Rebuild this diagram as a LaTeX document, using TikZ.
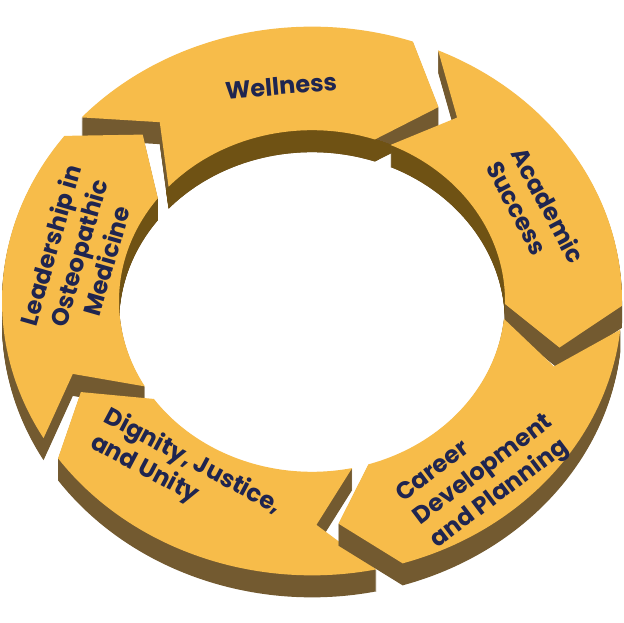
\documentclass[tikz,border=0pt]{standalone}
\usepackage{fontspec}
\setmainfont{Poppins}
\definecolor{face}{HTML}{F7BC4A}
\definecolor{sideout}{HTML}{735A30}
\definecolor{sidein}{HTML}{6F5214}
\definecolor{ink}{HTML}{1F2550}
\newcommand{\arrshape}{(\aA:310) arc[start angle=\aA,end angle=\aB,radius=310] -- (\aT:253) -- (\aB:193) arc[start angle=\aB,end angle=\aA,radius=193] -- (\aN:253) -- cycle}
\newcommand{\ringarrow}[1]{%
  \pgfmathsetmacro\aA{#1-2.5}%
  \pgfmathsetmacro\aB{#1-69.5}%
  \pgfmathsetmacro\aT{#1-80.5}%
  \pgfmathsetmacro\aN{#1-13.5}%
  \foreach \s in {22,21,...,1}{%
    \begin{scope}[yshift=-\s]
      \begin{scope}[ring]
        \fill[sideout] \arrshape;
      \end{scope}
    \end{scope}}%
  \begin{scope}
    \clip[ring] (0,0) circle[radius=193];
    \foreach \s in {22,21,...,1}{%
      \begin{scope}[yshift=-\s]
        \begin{scope}[ring]
          \fill[sidein] \arrshape;
        \end{scope}
      \end{scope}}%
  \end{scope}
  \begin{scope}[ring]
    \fill[face] \arrshape;
  \end{scope}}
\begin{document}
\begin{tikzpicture}[x=1pt,y=1pt,
  ring/.style={shift={(312,322)},yscale=0.885},
  lbl/.style={font=\fontsize{24}{29}\selectfont\bfseries, text=ink, inner sep=0pt}]
\fill[white] (0,0) rectangle (624,623);
\useasboundingbox (0,0) rectangle (624,623);
\ringarrow{140.5}
\ringarrow{68.5}
\ringarrow{-147.5}
\ringarrow{-75.5}
\ringarrow{-3.5}
\node[lbl, rotate=5] (w) at (281,537) {Wellness};
\node[lbl, rotate=-62, align=left] (a) at (536,411) {Academic\\Success};
\node[lbl, rotate=74, align=center] (l) at (78,370) {Leadership in\\Osteopathic\\Medicine};
\node[lbl, rotate=-28, align=left] (d) at (186,148) {Dignity, Justice,\\and Unity};
\node[lbl, rotate=37, align=left] (c) at (484,152) {Career\\Development\\and Planning};
\end{tikzpicture}
\end{document}
